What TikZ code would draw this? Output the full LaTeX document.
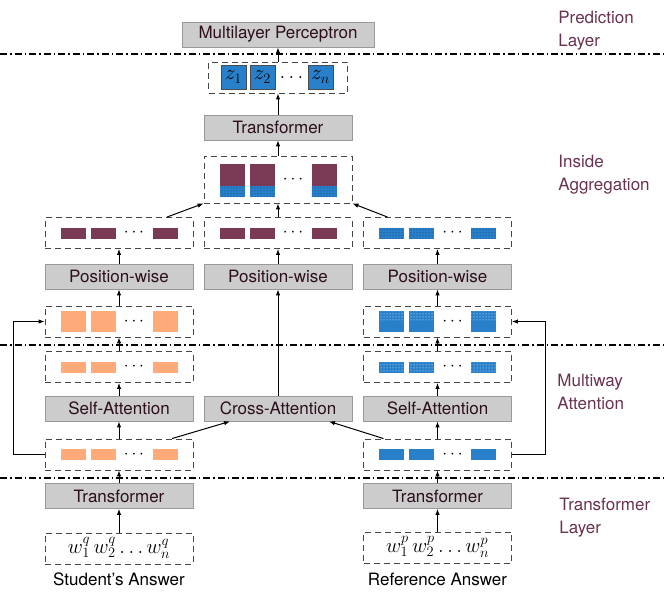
\documentclass[tikz,border=0pt]{standalone}
\usepackage{fontspec}
\setmainfont{TeX Gyre Heros}
\usetikzlibrary{arrows.meta,patterns}

\definecolor{plum}{RGB}{122,58,85}
\definecolor{peach}{RGB}{255,170,120}
\definecolor{azure}{RGB}{40,128,202}
\definecolor{navy}{RGB}{20,45,100}
\definecolor{boxgray}{RGB}{204,204,204}
\definecolor{tagred}{RGB}{105,50,80}
\definecolor{inkdark}{RGB}{45,15,30}

\begin{document}
\begin{tikzpicture}[x=1pt, y=-1pt, line width=0.8pt,
  >={Latex[length=6pt,width=4.5pt]},
  every node/.style={font=\fontsize{17}{20}\selectfont},
  layer/.style={draw=gray!80, fill=boxgray, minimum width=148pt, minimum height=25pt, inner sep=0pt, text=inkdark},
  seq/.style={draw=gray!55!black, dash pattern=on 6pt off 4pt, line width=0.9pt, minimum width=148pt, minimum height=31pt, inner sep=0pt},
  zcell/.style={fill=azure, draw=gray!60!black, line width=0.4pt, minimum width=25pt, minimum height=24pt, inner sep=0pt, font=\fontsize{20}{24}\selectfont},
  flow/.style={->, line width=1pt},
  split/.style={line width=1.2pt, dash pattern=on 7pt off 3pt on 1.5pt off 3pt},
  tag/.style={text=tagred, align=left, anchor=west, inner sep=0pt, font=\fontsize{17}{23}\selectfont}]
  \useasboundingbox (0,0) rectangle (664,599);

  % Columns and rows
  \def\xl{119}
  \def\xc{278}
  \def\xr{437.5}
  \def\ya{233}
  \def\yb{321.5}
  \def\yc{367}
  \def\yd{454.5}

  % Layer separators
  \draw[split] (0,54) -- (664,54);
  \draw[split] (0,345) -- (664,345);
  \draw[split] (0,478) -- (664,478);

  % Layer names
  \node[tag] (tpred) at (558,30.5) {Prediction\\Layer};
  \node[tag] (tagg) at (558,174.5) {Inside\\Aggregation};
  \node[tag] (tatt) at (557,391.5) {Multiway\\Attention};
  \node[tag] (ttrans) at (559,518) {Transformer\\Layer};

  % Prediction layer
  \node[layer, minimum width=192pt] (mlp) at (\xc,34.5) {Multilayer Perceptron};
  \node[seq, minimum width=139pt] (zrow) at (\xc,77.5) {};
  \node[zcell] (z1) at (233.5,77) {$z_1$};
  \node[zcell] (z2) at (262.5,77) {$z_2$};
  \node[zcell] (zn) at (320.5,77) {$z_n$};
  \node[font=\fontsize{20}{24}\selectfont] (zdots) at (291.5,77) {$\ldots$};

  % Inside aggregation
  \node[layer] (tfagg) at (\xc,127.5) {Transformer};
  \node[seq, minimum height=47pt] (agg) at (\xc,179.5) {};
  \foreach \dx in {-46,-16,46} {
    \fill[plum] ({\xc+\dx-12.5},164) rectangle ++(25,22);
    \fill[azure] ({\xc+\dx-12.5},186) rectangle ++(25,11);
    \fill[pattern=dots, pattern color=navy] ({\xc+\dx-12.5},186) rectangle ++(25,11);
  }
  \node (aggdots) at ({\xc+15},180) {$\cdots$};

  \node[seq] (outl) at (\xl,\ya) {};
  \node[seq] (outc) at (\xc,\ya) {};
  \node[seq] (outr) at (\xr,\ya) {};
  \foreach \dx in {-46,-16,46} {
    \fill[plum] ({\xl+\dx-12.5},{\ya-5.5}) rectangle ++(25,11);
    \fill[plum] ({\xc+\dx-12.5},{\ya-5.5}) rectangle ++(25,11);
    \fill[azure] ({\xr+\dx-12.5},{\ya-5.5}) rectangle ++(25,11);
    \fill[pattern=dots, pattern color=navy] ({\xr+\dx-12.5},{\ya-5.5}) rectangle ++(25,11);
  }
  \node (dotsal) at ({\xl+15},\ya) {$\cdots$};
  \node (dotsac) at ({\xc+15},\ya) {$\cdots$};
  \node (dotsar) at ({\xr+15},\ya) {$\cdots$};

  \node[layer] (posl) at (\xl,276.5) {Position-wise};
  \node[layer] (posc) at (\xc,276.5) {Position-wise};
  \node[layer] (posr) at (\xr,276.5) {Position-wise};

  \node[seq] (hidl) at (\xl,\yb) {};
  \node[seq] (hidr) at (\xr,\yb) {};
  \foreach \dx in {-46,-16,46} {
    \fill[peach] ({\xl+\dx-12.5},{\yb-10.5}) rectangle ++(25,21);
    \fill[azure] ({\xr+\dx-12.5},{\yb-10.5}) rectangle ++(25,21);
    \fill[pattern=dots, pattern color=white] ({\xr+\dx-12.5},{\yb-10.5}) rectangle ++(25,9);
  }
  \node (dotsbl) at ({\xl+15},\yb) {$\cdots$};
  \node (dotsbr) at ({\xr+15},\yb) {$\cdots$};

  % Multiway attention
  \node[seq] (attl) at (\xl,\yc) {};
  \node[seq] (attr) at (\xr,\yc) {};
  \foreach \dx in {-46,-16,46} {
    \fill[peach] ({\xl+\dx-12.5},{\yc-5.5}) rectangle ++(25,11);
    \fill[azure] ({\xr+\dx-12.5},{\yc-5.5}) rectangle ++(25,11);
    \fill[pattern=dots, pattern color=white] ({\xr+\dx-12.5},{\yc-5.5}) rectangle ++(25,11);
  }
  \node (dotscl) at ({\xl+15},\yc) {$\cdots$};
  \node (dotscr) at ({\xr+15},\yc) {$\cdots$};

  \node[layer] (sal) at (\xl,408.5) {Self-Attention};
  \node[layer] (cross) at (\xc,408.5) {Cross-Attention};
  \node[layer] (sar) at (\xr,408.5) {Self-Attention};

  \node[seq] (encl) at (\xl,\yd) {};
  \node[seq] (encr) at (\xr,\yd) {};
  \foreach \dx in {-46,-16,46} {
    \fill[peach] ({\xl+\dx-12.5},{\yd-5.5}) rectangle ++(25,11);
    \fill[azure] ({\xr+\dx-12.5},{\yd-5.5}) rectangle ++(25,11);
  }
  \node (dotsdl) at ({\xl+15},\yd) {$\cdots$};
  \node (dotsdr) at ({\xr+15},\yd) {$\cdots$};

  % Transformer layer
  \node[layer] (tfl) at (\xl,496) {Transformer};
  \node[layer] (tfr) at (\xr,496) {Transformer};
  \node[seq] (wordl) at (\xl,548.5) {};
  \node[seq] (wordr) at (\xr,547.5) {};
  \node[font=\fontsize{21}{24}\selectfont, inner sep=0pt] (wordlt) at (\xl,548) {$w_1^q\,w_2^q\ldots w_n^q$};
  \node[font=\fontsize{21}{24}\selectfont, inner sep=0pt] (wordrt) at (\xr,547) {$w_1^p\,w_2^p\ldots w_n^p$};
  \node (stud) at (\xl,579) {Student's Answer};
  \node (refa) at (\xr,579) {Reference Answer};

  % Arrows
  \draw[flow] (wordl.north) -- (tfl.south);
  \draw[flow] (wordr.north) -- (tfr.south);
  \draw[flow] (tfl.north) -- (encl.south);
  \draw[flow] (tfr.north) -- (encr.south);
  \draw[flow] (encl.north) -- (sal.south);
  \draw[flow] (encr.north) -- (sar.south);
  \draw[flow] ([xshift=53pt]encl.north) -- ([xshift=-48pt]cross.south);
  \draw[flow] ([xshift=-54pt]encr.north) -- ([xshift=51pt]cross.south);
  \draw[flow] (sal.north) -- (attl.south);
  \draw[flow] (sar.north) -- (attr.south);
  \draw[flow] (attl.north) -- (hidl.south);
  \draw[flow] (attr.north) -- (hidr.south);
  \draw[flow] (encl.west) -- ++(-31,0) |- (hidl.west);
  \draw[flow] (encr.east) -- ++(34,0) |- (hidr.east);
  \draw[flow] (hidl.north) -- (posl.south);
  \draw[flow] (hidr.north) -- (posr.south);
  \draw[flow] (cross.north) -- (posc.south);
  \draw[flow] (posl.north) -- (outl.south);
  \draw[flow] (posc.north) -- (outc.south);
  \draw[flow] (posr.north) -- (outr.south);
  \draw[flow] ([xshift=48pt]outl.north) -- (agg.south west);
  \draw[flow] (outc.north) -- (agg.south);
  \draw[flow] ([xshift=-50pt]outr.north) -- (agg.south east);
  \draw[flow] (agg.north) -- (tfagg.south);
  \draw[flow] (tfagg.north) -- (zrow.south);
  \draw[flow] (zrow.north) -- (mlp.south);
\end{tikzpicture}
\end{document}
